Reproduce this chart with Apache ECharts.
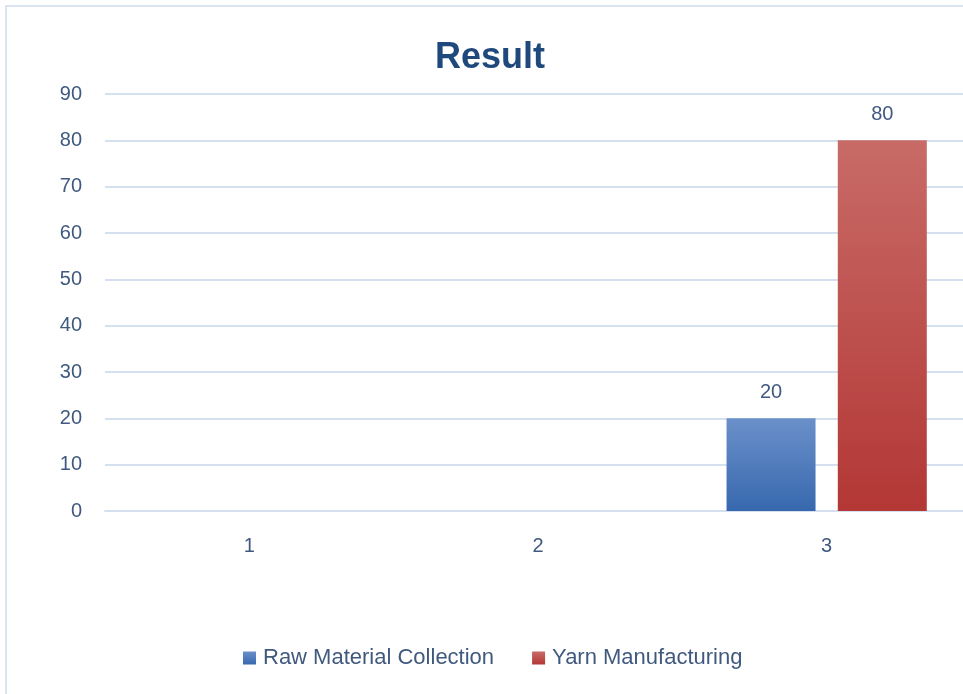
<!DOCTYPE html>
<html>
<head>
<meta charset="utf-8">
<script src="https://cdn.jsdelivr.net/npm/echarts@6/dist/echarts.min.js"></script>
<style>html,body{margin:0;padding:0;background:#fff;overflow:hidden;}#c{width:980px;height:694px;}</style>
</head>
<body>
<div id="c"></div>
<script>
var categories = ['1', '2', '3'];
var rawMaterial = [null, null, 20];
var yarnManufacturing = [null, null, 80];
var seriesNames = ['Raw Material Collection', 'Yarn Manufacturing'];
var yTicks = {min: 0, max: 90, interval: 10};

var chart = echarts.init(document.getElementById('c'));
var txt = '#40597f';
var font = 'Liberation Sans';
function grad(top, bottom) {
  return new echarts.graphic.LinearGradient(0, 0, 0, 1, [{offset: 0, color: top}, {offset: 1, color: bottom}]);
}
chart.setOption({
  animation: false,
  backgroundColor: '#fff',
  graphic: [{
    type: 'rect', z: -1,
    shape: {x: 6, y: 6, width: 1100, height: 1000},
    style: {fill: 'none', stroke: '#dbe5f1', lineWidth: 2}
  }],
  title: {
    text: 'Result', left: 'center', top: 35,
    textStyle: {color: '#1f497d', fontWeight: 'bold', fontSize: 36, fontFamily: font}
  },
  legend: {
    bottom: 20, left: 238,
    itemWidth: 13, itemHeight: 13, itemGap: 38, icon: 'rect',
    textStyle: {color: txt, fontSize: 22, fontFamily: font, padding: [0, 0, 0, 2]},
    data: seriesNames
  },
  grid: {left: 105, top: 94, width: 866, height: 417, containLabel: false},
  xAxis: {
    type: 'category', data: categories,
    axisLine: {show: true, lineStyle: {color: '#d4e0f0', width: 2}},
    axisTick: {show: false},
    axisLabel: {color: txt, fontSize: 20, fontFamily: font, margin: 25}
  },
  yAxis: {
    type: 'value', min: yTicks.min, max: yTicks.max, interval: yTicks.interval,
    axisLine: {show: false}, axisTick: {show: false},
    splitLine: {lineStyle: {color: '#d4e0f0', width: 2}},
    axisLabel: {color: txt, fontSize: 20, fontFamily: font, margin: 23}
  },
  series: [{
    name: seriesNames[0], type: 'bar', data: rawMaterial,
    barWidth: 89, barGap: '25%',
    itemStyle: {color: grad('#6b90ca', '#3768ae')},
    label: {show: true, position: 'top', distance: 16, color: txt, fontSize: 20, fontFamily: font}
  }, {
    name: seriesNames[1], type: 'bar', data: yarnManufacturing,
    barWidth: 89,
    itemStyle: {color: grad('#c86b67', '#b33735')},
    label: {show: true, position: 'top', distance: 16, color: txt, fontSize: 20, fontFamily: font}
  }],
  color: ['#4a7ebb', '#be4b48']
});
</script>
</body>
</html>
